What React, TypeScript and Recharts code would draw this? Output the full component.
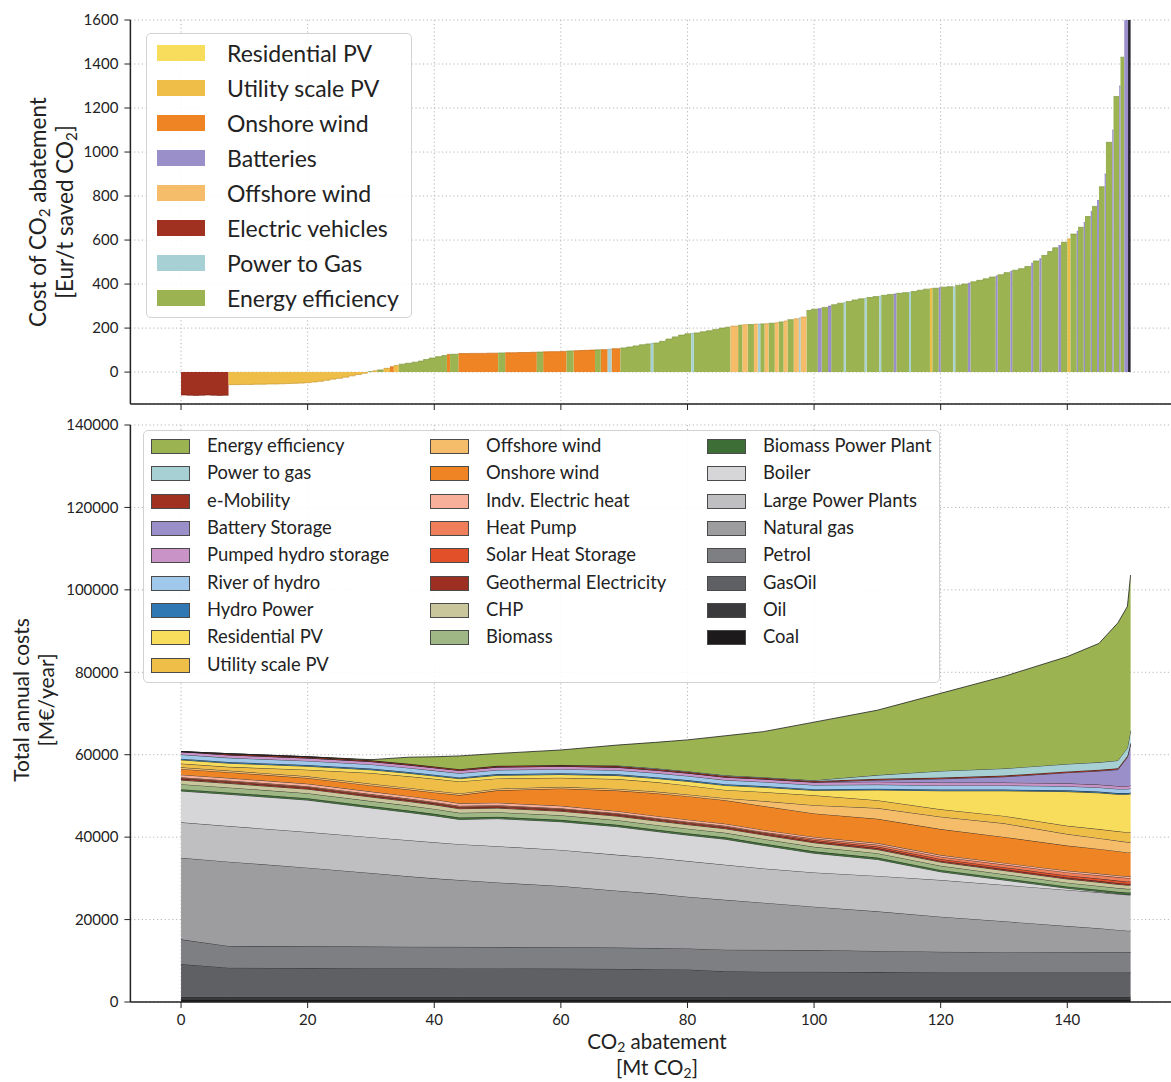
import { AreaChart, Area, XAxis, YAxis, CartesianGrid } from "recharts";

const FONT = "Lato, 'Open Sans', 'DejaVu Sans', sans-serif";
const INK = "#222";
const GRID = "#b5b5b5";
const X_DOMAIN: [number, number] = [-8, 158.5];
const X_TICKS = [0, 20, 40, 60, 80, 100, 120, 140];

// ---------- upper panel: abatement cost curve ----------
// V electric vehicles, U utility PV, W onshore wind, E energy efficiency,
// P power to gas, F offshore wind, B batteries, X other (dark end bar)
const techFill: Record<string, string> = {
  V: "#a0301f", U: "#efbe49", W: "#ee8424", E: "#9bb451",
  P: "#a6d0d4", F: "#f5bd6a", B: "#9a8fc9", X: "#26232f",
};
const techEdge: Record<string, string> = {
  V: "#7d2418", U: "#c99a2e", W: "#c86a17", E: "#7f963f",
  P: "#86b0b5", F: "#d39c4e", B: "#7c71a8", X: "#111111",
};

const topLegendNames = [
  "Residential PV", "Utility scale PV", "Onshore wind", "Batteries",
  "Offshore wind", "Electric vehicles", "Power to Gas", "Energy efficiency",
];
const topLegendColors = [
  "#f8dc5c", "#efbe49", "#ee8424", "#9a8fc9", "#f5bd6a", "#a0301f", "#a6d0d4", "#9bb451",
];

const barTech = [
  "V", "V", "V", "V", "V", "V", "V", "V",
  "U", "U", "U", "U", "U", "U", "U", "U", "U", "U", "U",
  "U", "U", "U", "U", "U", "U", "U", "U", "U", "U", "U",
  "E", "U", "E", "U", "W", "U", "E", "E", "E", "E", "E", "E", "E", "E", "W", "E",
  "W", "W", "W", "W", "W", "W", "W", "E", "W", "W", "W", "W", "W", "E",
  "W", "W", "W", "W", "E", "W", "W", "W", "W", "E", "W", "P", "W",
  "E", "E", "E", "E", "E", "P", "E", "E", "E", "E", "E", "E", "P",
  "E", "E", "E", "E", "E", "E",
  "F", "E", "F", "E", "F", "P", "E", "F", "E", "F", "E", "F", "E", "F", "P", "F", "E", "E",
  "B", "E", "B", "E", "E", "P", "E", "E", "E", "P", "E", "E", "P", "E", "E",
  "B", "E", "E", "P", "E", "E", "E", "U", "E", "B", "E", "E", "P", "E", "E",
  "B", "E", "E", "E", "E", "B", "E", "E", "B", "E", "E", "E", "B", "E", "B",
  "E", "E", "E", "B", "E", "U", "E", "B", "E", "B", "E", "B", "E", "B", "E",
  "B", "E", "B", "E", "B", "E", "B", "X",
];
const barWidth = [
  0.9375, 0.9375, 0.9375, 0.9375, 0.9375, 0.9375, 0.9375, 0.9375,
  1, 1, 1, 1, 1, 1, 1, 1, 1, 1, 1,
  1, 1, 1, 1, 1, 1, 1, 1, 1, 1, 1,
  0.8, 0.7, 1, 1, 0.6, 0.8, 1, 1.1, 1, 0.8, 0.9, 1, 1, 0.8, 0.5, 1.3,
  0.9, 0.9, 0.9, 0.9, 0.9, 0.9, 0.9, 1.1, 1, 1, 1, 1, 1, 1,
  0.925, 0.925, 0.925, 0.925, 1.1, 0.85, 0.85, 0.85, 0.85, 0.9, 1.1, 0.6, 1.4,
  1, 1, 1, 1, 0.8, 0.4, 1, 1, 1, 1, 1, 1, 0.4,
  1, 1, 1, 1, 1, 0.8,
  1.2, 0.7, 0.8, 1, 0.6, 0.4, 0.7, 0.6, 1, 0.6, 0.8, 0.6, 1, 0.8, 0.3, 0.9, 0.8, 1,
  0.6, 1, 0.5, 1, 1, 0.3, 1, 1, 1, 0.3, 1, 1, 0.3, 1, 1,
  0.4, 1, 1, 0.3, 1, 1, 1, 0.4, 1, 0.3, 1, 1, 0.3, 1, 1,
  0.4, 1, 1, 1, 1, 0.3, 1, 1, 0.3, 1, 1, 1, 0.3, 1, 0.3,
  1, 0.8, 0.9, 0.4, 1, 0.5, 1, 0.2, 0.9, 0.2, 0.9, 0.2, 0.8, 0.3, 0.9,
  0.2, 1, 0.2, 0.9, 0.2, 0.6, 0.6, 0.4,
];
const barCost = [
  -104, -105, -106, -105, -104, -105, -106, -105,
  -57, -57, -56, -56, -55, -55, -54, -54, -53, -52, -51,
  -50, -48, -45, -42, -37, -32, -28, -23, -17, -11, -5,
  2, 6, 10, 17, 24, 30, 36, 40, 45, 50, 57, 64, 70, 75, 80, 81,
  84, 84, 85, 85, 85, 86, 86, 87, 88, 88, 89, 89, 90, 91,
  92, 93, 93, 94, 96, 97, 98, 99, 100, 101, 102, 104, 106,
  110, 114, 119, 124, 128, 130, 132, 140, 150, 160, 168, 174, 176,
  178, 183, 188, 194, 200, 204,
  209, 213, 215, 216, 218, 218, 219, 220, 222, 224, 228, 232, 238, 242, 246, 250, 280, 286,
  288, 294, 300, 306, 313, 316, 321, 328, 333, 335, 339, 343, 345, 349, 353,
  355, 358, 361, 362, 366, 372, 377, 379, 381, 383, 386, 388, 386, 394, 400,
  404, 410, 417, 424, 432, 437, 442, 452, 458, 463, 470, 480, 495, 505, 515,
  530, 548, 565, 575, 590, 605, 627, 640, 658, 680, 707, 730, 753, 780, 842,
  900, 1044, 1100, 1252, 1300, 1431, 2000, 2200,
];

// each bar becomes a flat-topped run of two points in its technology's series
const barRows: Record<string, number>[] = [];
{
  let left = 0;
  barTech.forEach((t, i) => {
    const right = left + barWidth[i];
    barRows.push({ x: left, [t]: barCost[i] });
    barRows.push({ x: right, [t]: barCost[i] });
    left = right;
  });
}

// ---------- lower panel: total annual costs ----------
const abatement = [0, 7.5, 20, 30, 36, 40, 44, 50, 60, 69, 75, 80, 86, 92, 100, 110, 120, 130, 140, 145, 148, 149.5, 150];

const coal = [600, 600, 600, 600, 600, 600, 600, 600, 600, 600, 600, 600, 600, 600, 600, 600, 600, 600, 600, 600, 600, 600, 600];
const oil = [650, 650, 650, 650, 650, 650, 650, 650, 650, 650, 650, 650, 650, 650, 650, 650, 650, 650, 650, 650, 650, 650, 650];
const gasOil = [7970, 7080, 7000, 6950, 6950, 6950, 6900, 6900, 6850, 6800, 6700, 6650, 6200, 6100, 6100, 6000, 5900, 5900, 5900, 5900, 5900, 5900, 5900];
const petrol = [5980, 5270, 5250, 5250, 5220, 5200, 5230, 5200, 5170, 5150, 5150, 5100, 5250, 5300, 5250, 5150, 5050, 4950, 4910, 4900, 4900, 4900, 4900];
const naturalGas = [19800, 20450, 19100, 17850, 17080, 16600, 16220, 15650, 14880, 13800, 13200, 12550, 12100, 11450, 10530, 9600, 8500, 7500, 6380, 5850, 5450, 5250, 5250];
const largePlants = [8600, 8650, 8650, 8700, 8750, 8750, 8700, 8800, 8750, 8700, 8700, 8650, 8500, 8300, 8300, 8600, 8900, 8800, 8760, 8700, 8700, 8700, 8700];
const boiler = [7600, 7700, 7750, 7100, 6750, 6450, 6000, 6700, 6850, 6840, 6400, 6300, 6200, 5600, 4670, 4000, 2000, 1200, 400, 200, 100, 100, 100];
const biomassPlant = [450, 450, 450, 450, 450, 450, 450, 450, 450, 450, 450, 450, 450, 450, 450, 450, 450, 450, 450, 450, 450, 450, 450];
const biomass = [1200, 1200, 1200, 1200, 1200, 1200, 1150, 1100, 1100, 1100, 1100, 1100, 1100, 1100, 1100, 1050, 1000, 950, 900, 900, 900, 900, 900];
const chp = [1000, 1000, 1000, 1000, 1000, 1000, 1000, 1000, 1000, 1000, 1000, 1000, 1000, 1000, 1000, 900, 900, 900, 900, 900, 900, 900, 900];
const geothermal = [350, 350, 350, 350, 350, 350, 350, 350, 350, 350, 350, 350, 350, 350, 350, 350, 350, 350, 350, 350, 350, 350, 350];
const solarHeat = [150, 150, 150, 150, 150, 150, 150, 150, 150, 150, 150, 150, 150, 150, 300, 350, 400, 450, 500, 550, 550, 550, 550];
const heatPump = [200, 200, 200, 200, 200, 200, 200, 200, 200, 200, 200, 200, 200, 200, 350, 450, 550, 650, 750, 800, 850, 850, 850];
const elecHeat = [600, 600, 600, 600, 600, 600, 600, 600, 600, 500, 500, 500, 500, 500, 400, 400, 400, 400, 400, 400, 400, 400, 400];
const onshore = [1400, 1400, 1400, 1500, 1600, 1700, 2000, 3000, 4200, 5000, 5500, 5700, 5700, 5800, 5700, 5900, 6300, 6300, 6100, 6000, 5900, 5800, 5800];
const offshore = [400, 400, 400, 400, 400, 400, 400, 400, 400, 400, 400, 400, 500, 1200, 2000, 2600, 3000, 3300, 2800, 2600, 2500, 2500, 2500];
const utilityPV = [900, 900, 1600, 2600, 2800, 2900, 2900, 2500, 2200, 2400, 2300, 2200, 2000, 2200, 2400, 1900, 1800, 1800, 2000, 2200, 2300, 2400, 2400];
const residentialPV = [900, 900, 850, 800, 750, 700, 700, 750, 800, 850, 900, 1000, 1100, 1150, 1200, 2500, 4500, 6100, 8300, 8800, 9000, 9200, 9300];
const hydro = [300, 300, 300, 300, 300, 300, 300, 300, 300, 300, 300, 300, 300, 300, 300, 300, 300, 300, 300, 300, 300, 300, 300];
const river = [1000, 1000, 1000, 1000, 1000, 1000, 1000, 1000, 1000, 1000, 1000, 1000, 1000, 1000, 1000, 1000, 1000, 1000, 1000, 1000, 1000, 1000, 1000];
const pumped = [700, 700, 700, 700, 700, 700, 700, 700, 700, 700, 700, 700, 700, 700, 700, 700, 700, 700, 700, 700, 700, 700, 700];
const battery = [0, 0, 0, 0, 0, 0, 0, 0, 0, 0, 0, 0, 0, 0, 0, 400, 900, 1400, 2600, 3300, 4000, 7000, 10000];
const eMobility = [0, 300, 300, 300, 300, 300, 300, 300, 300, 300, 300, 300, 300, 300, 300, 300, 300, 300, 300, 300, 300, 300, 300];
const powerToGas = [0, 0, 0, 0, 0, 0, 0, 0, 0, 150, 150, 150, 150, 150, 150, 900, 1600, 1700, 1800, 1800, 1900, 2000, 3000];
const efficiency = [0, 0, 0, 150, 1600, 2350, 3200, 3000, 3650, 4960, 6300, 7600, 9600, 11050, 14100, 15750, 18850, 22350, 26050, 28850, 33400, 34300, 37800];

// stacking order, bottom first
const costLayers = [
  { key: "coal", name: "Coal", color: "#1c1a1b", values: coal },
  { key: "oil", name: "Oil", color: "#3a3a3c", values: oil },
  { key: "gasOil", name: "GasOil", color: "#5f6064", values: gasOil },
  { key: "petrol", name: "Petrol", color: "#7e7f82", values: petrol },
  { key: "naturalGas", name: "Natural gas", color: "#9d9da0", values: naturalGas },
  { key: "largePlants", name: "Large Power Plants", color: "#bfbfc1", values: largePlants },
  { key: "boiler", name: "Boiler", color: "#d6d6d8", values: boiler },
  { key: "biomassPlant", name: "Biomass Power Plant", color: "#3d6e35", values: biomassPlant },
  { key: "biomass", name: "Biomass", color: "#9fb784", values: biomass },
  { key: "chp", name: "CHP", color: "#c9c69c", values: chp },
  { key: "geothermal", name: "Geothermal Electricity", color: "#9c2f22", values: geothermal },
  { key: "solarHeat", name: "Solar Heat Storage", color: "#e2502a", values: solarHeat },
  { key: "heatPump", name: "Heat Pump", color: "#ef7f5b", values: heatPump },
  { key: "elecHeat", name: "Indv. Electric heat", color: "#f8b09b", values: elecHeat },
  { key: "onshore", name: "Onshore wind", color: "#ee8424", values: onshore },
  { key: "offshore", name: "Offshore wind", color: "#f5bd6a", values: offshore },
  { key: "utilityPV", name: "Utility scale PV", color: "#efbe49", values: utilityPV },
  { key: "residentialPV", name: "Residential PV", color: "#f8dc5c", values: residentialPV },
  { key: "hydro", name: "Hydro Power", color: "#2f78b4", values: hydro },
  { key: "river", name: "River of hydro", color: "#9fc8ea", values: river },
  { key: "pumped", name: "Pumped hydro storage", color: "#c993c7", values: pumped },
  { key: "battery", name: "Battery Storage", color: "#9a8fc9", values: battery },
  { key: "eMobility", name: "e-Mobility", color: "#a0301f", values: eMobility },
  { key: "powerToGas", name: "Power to gas", color: "#a6d0d4", values: powerToGas },
  { key: "efficiency", name: "Energy efficiency", color: "#9bb451", values: efficiency },
];

const costRows = abatement.map((x, i) => {
  const row: Record<string, number> = { x };
  costLayers.forEach((l) => (row[l.key] = l.values[i]));
  return row;
});

const legendLayers = [...costLayers].reverse();

function AxisTitle({ x, y, size, rotate, children }: {
  x: number; y: number; size: number; rotate?: boolean; children: React.ReactNode;
}) {
  return (
    <div
      style={{
        position: "absolute", left: x, top: y,
        transform: `translate(-50%, -50%)${rotate ? " rotate(-90deg)" : ""}`,
        whiteSpace: "nowrap", fontSize: size, color: INK, fontFamily: FONT, lineHeight: 1,
      }}
    >
      {children}
    </div>
  );
}

const sub = { fontSize: "0.68em", verticalAlign: "-0.25em", lineHeight: 0 } as const;

export default function App() {
  const tickStyle = { fontSize: 15, fill: INK, fontFamily: FONT };
  return (
    <div
      style={{
        position: "fixed", left: 0, top: 0, width: 1171, height: 1082, overflow: "hidden",
        background: "#fff", fontFamily: FONT,
      }}
    >
      {/* upper panel */}
      <div style={{ position: "absolute", left: 0, top: 0 }}>
        <AreaChart width={1200} height={430} data={barRows} margin={{ top: 20, right: 15.6, bottom: 6, left: 0 }}>
          <XAxis
            type="number" dataKey="x" domain={X_DOMAIN} ticks={X_TICKS} allowDataOverflow
            height={20} tickFormatter={() => ""} tickSize={6}
            axisLine={{ stroke: INK, strokeWidth: 1.5 }} tickLine={{ stroke: INK }}
          />
          <XAxis
            xAxisId="top" orientation="top" type="number" dataKey="x" domain={X_DOMAIN} allowDataOverflow
            height={0} tick={false} tickLine={false} axisLine={{ stroke: INK, strokeWidth: 1.5 }}
          />
          <YAxis
            type="number" domain={[-145, 1600]} ticks={[0, 200, 400, 600, 800, 1000, 1200, 1400, 1600]}
            allowDataOverflow width={130.4} tick={tickStyle} tickMargin={6}
            axisLine={{ stroke: INK, strokeWidth: 1.5 }} tickLine={{ stroke: INK }}
          />
          {Object.keys(techFill).map((t) => (
            <Area
              key={t} dataKey={t} type="linear" fill={techFill[t]} fillOpacity={1}
              stroke={techEdge[t]} strokeWidth={0.7} connectNulls={false}
              isAnimationActive={false} dot={false} activeDot={false}
            />
          ))}
          <CartesianGrid stroke={GRID} strokeDasharray="1.2 2.6" />
        </AreaChart>
      </div>

      {/* lower panel */}
      <div style={{ position: "absolute", left: 0, top: 405 }}>
        <AreaChart width={1200} height={680} data={costRows} margin={{ top: 20, right: 15.6, bottom: 43, left: 0 }}>
          <XAxis
            type="number" dataKey="x" domain={X_DOMAIN} ticks={X_TICKS} allowDataOverflow
            height={40} tick={tickStyle} tickMargin={6} tickSize={6}
            axisLine={{ stroke: INK, strokeWidth: 1.5 }} tickLine={{ stroke: INK }}
          />
          <XAxis
            xAxisId="top" orientation="top" type="number" dataKey="x" domain={X_DOMAIN} allowDataOverflow
            height={0} tick={false} tickLine={false} axisLine={{ stroke: INK, strokeWidth: 1.5 }}
          />
          <YAxis
            type="number" domain={[0, 140000]} ticks={[0, 20000, 40000, 60000, 80000, 100000, 120000, 140000]}
            allowDataOverflow width={130.4} tick={tickStyle} tickMargin={6}
            axisLine={{ stroke: INK, strokeWidth: 1.5 }} tickLine={{ stroke: INK }}
          />
          {costLayers.map((l) => (
            <Area
              key={l.key} dataKey={l.key} name={l.name} stackId="cost" type="linear"
              fill={l.color} fillOpacity={1} stroke="#1e1e1e" strokeWidth={0.8}
              isAnimationActive={false} dot={false} activeDot={false}
            />
          ))}
          <CartesianGrid stroke={GRID} strokeDasharray="1.2 2.6" />
        </AreaChart>
      </div>

      {/* upper legend */}
      <div
        style={{
          position: "absolute", left: 146, top: 33, width: 266, height: 285,
          border: "1px solid #d2d2d2", borderRadius: 5, background: "rgba(255,255,255,0.88)",
          boxSizing: "border-box",
        }}
      >
        {topLegendNames.map((n, i) => (
          <div key={n} style={{ position: "absolute", left: 0, top: 19 + 35 * i, width: "100%" }}>
            <div
              style={{
                position: "absolute", left: 10, top: -8, width: 48, height: 16,
                background: topLegendColors[i],
              }}
            />
            <div
              style={{
                position: "absolute", left: 80, top: -14, fontSize: 23, lineHeight: "28px",
                color: INK, whiteSpace: "nowrap",
              }}
            >
              {n}
            </div>
          </div>
        ))}
      </div>

      {/* lower legend */}
      <div
        style={{
          position: "absolute", left: 143, top: 430, width: 797, height: 253,
          border: "1px solid #d2d2d2", borderRadius: 5, background: "rgba(255,255,255,0.88)",
          boxSizing: "border-box",
        }}
      >
        {legendLayers.map((l, i) => {
          const col = i < 9 ? 0 : i < 17 ? 1 : 2;
          const row = col === 0 ? i : col === 1 ? i - 9 : i - 17;
          const left = [7, 286, 563][col];
          return (
            <div key={l.key} style={{ position: "absolute", left, top: 15 + 27.35 * row }}>
              <div
                style={{
                  position: "absolute", left: 0, top: -7, width: 39, height: 15,
                  background: l.color, border: "1px solid #4a4a4a", boxSizing: "border-box",
                }}
              />
              <div
                style={{
                  position: "absolute", left: 56, top: -12, fontSize: 18.4, lineHeight: "23px",
                  color: INK, whiteSpace: "nowrap",
                }}
              >
                {l.name}
              </div>
            </div>
          );
        })}
      </div>

      {/* axis titles */}
      <AxisTitle x={38} y={212} size={22.5} rotate>
        Cost of CO<span style={sub}>2</span> abatement
      </AxisTitle>
      <AxisTitle x={65} y={212} size={22.5} rotate>
        [Eur/t saved CO<span style={sub}>2</span>]
      </AxisTitle>
      <AxisTitle x={20} y={700} size={21} rotate>Total annual costs</AxisTitle>
      <AxisTitle x={45} y={700} size={21} rotate>[M€/year]</AxisTitle>
      <AxisTitle x={657} y={1041} size={20.5}>
        CO<span style={sub}>2</span> abatement
      </AxisTitle>
      <AxisTitle x={657} y={1067} size={20.5}>
        [Mt CO<span style={sub}>2</span>]
      </AxisTitle>
    </div>
  );
}
